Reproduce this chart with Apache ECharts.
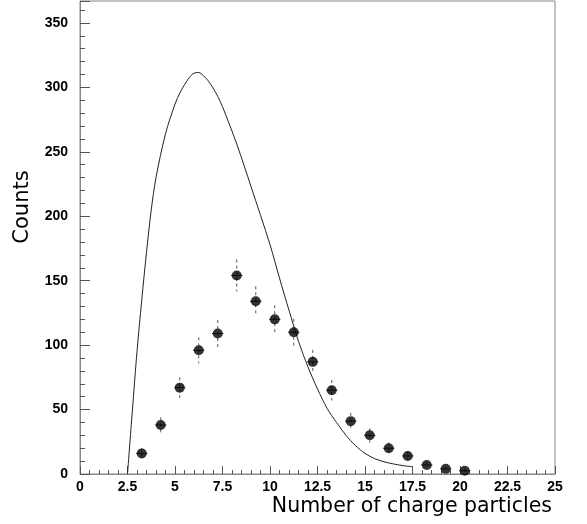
<!DOCTYPE html>
<html>
<head>
<meta charset="utf-8">
<script src="https://cdn.jsdelivr.net/npm/echarts@6/dist/echarts.min.js"></script>
<style>html,body{margin:0;padding:0;background:#fff}#c{width:587px;height:524px}</style>
</head>
<body>
<div id="c"></div>
<script>
// Data points (bin centers), counts and read-off error bar half-lengths
var pointX = [3.25, 4.25, 5.25, 6.25, 7.25, 8.25, 9.25, 10.25, 11.25, 12.25, 13.25, 14.25, 15.25, 16.25, 17.25, 18.25, 19.25, 20.25];
var pointY = [16, 38, 67, 96, 109, 154, 134, 120, 110, 87, 65, 41, 30, 20, 14, 7, 4, 2.5];
var pointErr = [4, 6, 8, 10, 10.5, 12.4, 11.6, 11, 10.5, 9.3, 8, 6.4, 5.5, 4.5, 3.7, 2.6, 2, 1.6];
// Fitted curve
var curveX = [2.5, 2.75, 3, 3.25, 3.5, 3.75, 4, 4.5, 5, 5.25, 5.5, 5.75, 6, 6.25, 6.5, 6.75, 7, 7.25, 7.5, 8.25, 9, 10, 10.5, 11, 11.5, 12, 12.5, 13, 13.5, 14, 14.5, 15, 15.5, 16, 16.5, 17, 17.5];
var curveY = [0, 48, 95, 135, 172, 205, 230, 264, 287, 295.5, 302, 307.5, 311, 311.5, 309, 305, 299.5, 293, 285, 256, 223, 178, 152, 127, 103, 83, 66, 51, 40, 30, 22, 16, 12, 9.5, 7.8, 6.5, 5.7];
var xTicks = ['0', '2.5', '5', '7.5', '10', '12.5', '15', '17.5', '20', '22.5', '25'];

var chart = echarts.init(document.getElementById('c'), null, {renderer: 'canvas'});
var pts = pointX.map(function (x, i) { return [x, pointY[i], pointErr[i]]; });
var curve = curveX.map(function (x, i) { return [x, curveY[i]]; });
var labelFont = {color: '#000', fontFamily: 'Liberation Sans', fontSize: 14, fontWeight: 'bold'};

chart.setOption({
  animation: false,
  grid: {left: 80, right: 32, top: 1, bottom: 50, show: true, borderColor: '#888', borderWidth: 1, backgroundColor: 'transparent'},
  graphic: [{
    type: 'text', x: 23, y: 207, rotation: Math.PI / 2,
    style: {text: 'Counts', fontFamily: 'DejaVu Sans', fontSize: 21, fill: '#000', align: 'center', verticalAlign: 'middle'}
  }],
  xAxis: {
    type: 'value', min: 0, max: 25, interval: 2.5,
    axisLine: {lineStyle: {color: '#888'}},
    axisTick: {inside: true, length: 8, lineStyle: {color: '#555'}},
    minorTick: {show: true, splitNumber: 5, length: 4, lineStyle: {color: '#555'}},
    splitLine: {show: false},
    axisLabel: Object.assign({margin: 6, formatter: function (v) { var s = String(v); return xTicks.indexOf(s) >= 0 ? s : ''; }}, labelFont),
    name: 'Number of charge particles', nameLocation: 'end', nameGap: -3,
    nameTextStyle: {fontFamily: 'DejaVu Sans', fontSize: 20.5, color: '#000', align: 'right', verticalAlign: 'top', padding: [22, 0, 0, 0]}
  },
  yAxis: {
    type: 'value', min: 0, max: 367, interval: 50,
    axisLine: {show: true, lineStyle: {color: '#888'}},
    axisTick: {show: true, inside: true, length: 10, lineStyle: {color: '#555'}},
    minorTick: {show: true, splitNumber: 5, length: 5, lineStyle: {color: '#555'}},
    splitLine: {show: false},
    axisLabel: Object.assign({margin: 12, showMaxLabel: false}, labelFont)
  },
  series: [
    {
      type: 'line', data: curve, smooth: 0.3, showSymbol: false, symbol: 'none',
      lineStyle: {color: '#222', width: 1}, z: 2
    },
    {
      type: 'custom', data: pts, z: 3,
      renderItem: function (params, api) {
        var x = api.value(0), y = api.value(1), e = api.value(2);
        var top = api.coord([x, y + e]);
        var bot = api.coord([x, Math.max(0, y - e)]);
        var l = api.coord([x - 0.3, y]);
        var r = api.coord([x + 0.3, y]);
        return {type: 'group', children: [
          {type: 'line', shape: {x1: top[0], y1: top[1], x2: bot[0], y2: bot[1]}, style: {stroke: '#555', lineWidth: 1, lineDash: [3, 3]}},
          {type: 'line', shape: {x1: l[0], y1: l[1], x2: r[0], y2: r[1]}, style: {stroke: '#333', lineWidth: 1}}
        ]};
      }
    },
    {
      type: 'scatter', data: pts.map(function (p) { return [p[0], p[1]]; }), symbol: 'circle', symbolSize: 10,
      itemStyle: {color: '#000'}, z: 4
    }
  ]
});
</script>
</body>
</html>
